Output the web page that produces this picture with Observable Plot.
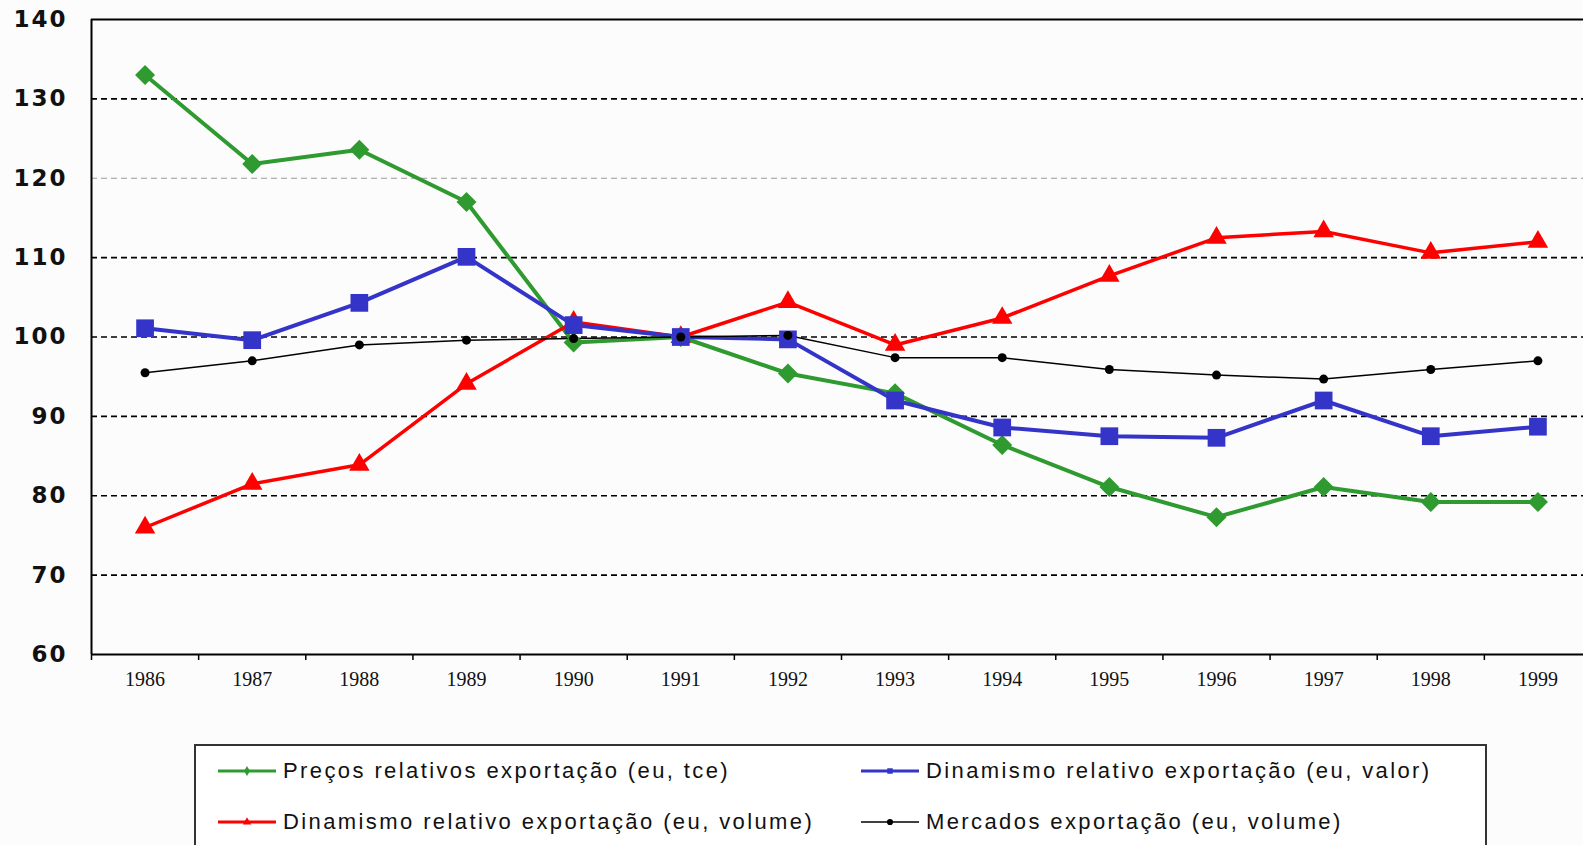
<!DOCTYPE html>
<html><head><meta charset="utf-8">
<script src="https://cdn.jsdelivr.net/npm/d3@7"></script>
<script src="https://cdn.jsdelivr.net/npm/@observablehq/plot@0.6"></script>
<style>
html,body{margin:0;padding:0;background:#fcfcfc;}
body{width:1583px;height:845px;overflow:hidden;position:relative;}
#chart{position:absolute;left:0;top:0;width:1591px;}
#chart svg{max-width:none !important;}
g[aria-label="y-axis tick label"] text{letter-spacing:2px;}
#legend{position:absolute;left:194px;top:744px;width:1293px;height:130px;border:2px solid #333;background:#fff;box-sizing:border-box;}
.item{position:absolute;display:flex;align-items:center;height:26px;font-family:"Liberation Sans",Arial,sans-serif;font-size:22px;letter-spacing:2.4px;color:#111;white-space:nowrap;}
.item svg{margin-right:6px;}
</style></head><body>
<div id="chart"></div>
<div id="legend"></div>
<script>
const years = [1986,1987,1988,1989,1990,1991,1992,1993,1994,1995,1996,1997,1998,1999];
const precos    = [133.0,121.8,123.6,117.0,99.3,100,95.4,92.9,86.4,81.1,77.3,81.1,79.2,79.2];
const dinValor  = [101.1,99.6,104.3,110.1,101.5,100,99.7,92.0,88.6,87.5,87.3,92.0,87.5,88.7];
const dinVolume = [76.0,81.5,83.9,94.1,101.9,100,104.4,99.0,102.4,107.7,112.5,113.3,110.6,112.0];
const mercados  = [95.5,97.0,99.0,99.6,99.8,100,100.2,97.4,97.4,95.9,95.2,94.7,95.9,97.0];
const yTicks = [60,70,80,90,100,110,120,130,140];
const gridDark = [70,80,90,100,110,130];
const gridLight = [120];
const seriesNames = [
  "Preços relativos exportação (eu, tce)",
  "Dinamismo relativo exportação (eu, valor)",
  "Dinamismo relativo exportação (eu, volume)",
  "Mercados exportação (eu, volume)"
];

const toRows = (vals) => years.map((y, i) => ({year: y, value: vals[i]}));
const green = "#2f9a2f", blue = "#3434c8", red = "#ff0000", black = "#000000";
const boundaries = [years[0] - 0.5, ...years.map(y => y + 0.5)];
const xDomain = [years[0] - 0.5, years[years.length - 1] + 0.5];

const series = [
  {name: seriesNames[0], vals: precos, color: green, sw: 4, symbol: "diamond2", r: 9},
  {name: seriesNames[2], vals: dinVolume, color: red, sw: 3.5, symbol: "triangle", r: 7.6},
  {name: seriesNames[1], vals: dinValor, color: blue, sw: 4, symbol: "square", r: 10},
  {name: seriesNames[3], vals: mercados, color: black, sw: 1.5, symbol: "circle", r: 4.5}
];

const marks = [
  Plot.ruleY(gridDark, {stroke: "#000", strokeWidth: 1.6, strokeDasharray: "6,4"}),
  Plot.ruleY(gridLight, {stroke: "#999", strokeWidth: 1, strokeDasharray: "6,4"}),
  Plot.ruleY([140], {stroke: "#000", strokeWidth: 2}),
  Plot.ruleY([60], {stroke: "#000", strokeWidth: 2}),
  Plot.ruleX([xDomain[0]], {stroke: "#000", strokeWidth: 2}),
  Plot.axisY({ticks: yTicks, tickSize: 8, tickPadding: 16, tickFormat: d => String(d), label: null,
    fontSize: 23, fontFamily: "DejaVu Sans, sans-serif", fontWeight: "bold", stroke: null, fill: "#111"}),
  Plot.axisX({ticks: years, tickSize: 0, tickPadding: 17, tickFormat: d => String(d), label: null,
    fontSize: 20, fontFamily: "Liberation Serif, Times New Roman, serif", fill: "#111"}),
  Plot.axisX({ticks: boundaries, tickSize: 6, tickFormat: () => "", label: null, strokeWidth: 1.5})
];
for (const s of series) {
  const rows = toRows(s.vals);
  marks.push(Plot.line(rows, {x: "year", y: "value", stroke: s.color, strokeWidth: s.sw}));
}
for (const s of series) {
  const rows = toRows(s.vals);
  marks.push(Plot.dot(rows, {x: "year", y: "value", symbol: () => s.symbol, fill: s.color, r: s.r, stroke: "none"}));
}

const chart = Plot.plot({
  width: 1591, height: 700,
  marginTop: 19, marginBottom: 46, marginLeft: 91, marginRight: 0,
  style: {background: "transparent", overflow: "visible", maxWidth: "none"},
  x: {type: "linear", domain: xDomain, axis: null},
  y: {type: "linear", domain: [60, 140], axis: null},
  symbol: {type: "identity"},
  marks
});
document.getElementById("chart").appendChild(chart);

// Legend
const legend = d3.select("#legend");
const legendItems = [
  {s: series.find(d => d.name === seriesNames[0]), left: 21, top: 12},
  {s: series.find(d => d.name === seriesNames[1]), left: 664, top: 12},
  {s: series.find(d => d.name === seriesNames[2]), left: 21, top: 63},
  {s: series.find(d => d.name === seriesNames[3]), left: 664, top: 63}
];
for (const it of legendItems) {
  const div = legend.append("div").attr("class", "item").style("left", it.left + "px").style("top", it.top + "px");
  const svg = div.append("svg").attr("width", 60).attr("height", 20);
  svg.append("line").attr("x1", 1).attr("x2", 59).attr("y1", 10).attr("y2", 10)
    .attr("stroke", it.s.color).attr("stroke-width", Math.min(it.s.sw, 3));
  svg.append("path").attr("transform", "translate(30,10)")
    .attr("d", d3.symbol(it.s.symbol === "diamond2" ? d3.symbolDiamond : it.s.symbol === "square" ? d3.symbolSquare : it.s.symbol === "triangle" ? d3.symbolTriangle : d3.symbolCircle, 30)())
    .attr("fill", it.s.color);
  div.append("span").text(it.s.name);
}
</script>
</body></html>
